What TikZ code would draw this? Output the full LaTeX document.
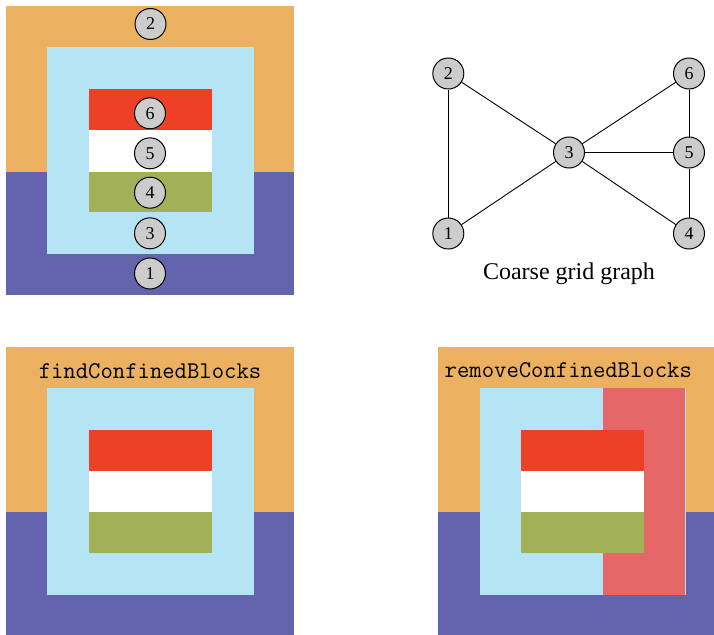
\documentclass[tikz,border=0pt]{standalone}
\usepackage{fontspec}
\setmainfont{Liberation Serif}

\definecolor{orangeA}{RGB}{235,177,96}
\definecolor{purpleA}{RGB}{100,100,174}
\definecolor{blueA}{RGB}{181,228,245}
\definecolor{redA}{RGB}{239,64,39}
\definecolor{greenA}{RGB}{162,177,87}
\definecolor{salmonA}{RGB}{229,103,104}
\definecolor{nodegray}{RGB}{204,204,204}

% One nested-block panel: outer halves, light-blue block and the three inner strips
\newcommand{\blockpanel}{%
  \fill[orangeA] (6,6) rectangle (294,171.7);
  \fill[purpleA] (6,171.7) rectangle (294,295);
  \fill[blueA] (47.3,47.3) rectangle (253.7,254);
  \fill[redA] (88.5,89) rectangle (212,130);
  \fill[white] (88.5,130) rectangle (212,171.7);
  \fill[greenA] (88.5,171.7) rectangle (212,212.3);
}

\begin{document}
\begin{tikzpicture}[x=1pt,y=-1pt,
  blocknode/.style={circle, draw=black, line width=1pt, fill=nodegray,
    minimum size=31pt, inner sep=0pt, font=\fontsize{18}{18}\selectfont},
  edge/.style={draw=black, line width=0.9pt},
  ttlabel/.style={anchor=base, inner sep=0pt, font=\fontsize{24}{24}\selectfont\ttfamily},
  caption/.style={anchor=base, inner sep=0pt, font=\fontsize{24}{24}\selectfont}]
\useasboundingbox (0,0) rectangle (714,634);
\begin{scope}
\clip (0,0) rectangle (714,634);

% top left: blocks with their numbers
\blockpanel
\node[blocknode] (p2) at (150.5,24) {2};
\node[blocknode] (p6) at (150,113.3) {6};
\node[blocknode] (p5) at (150,153.3) {5};
\node[blocknode] (p4) at (150,192.7) {4};
\node[blocknode] (p3) at (150,233.3) {3};
\node[blocknode] (p1) at (150,273.5) {1};

% top right: coarse grid graph
\node[blocknode] (g2) at (448.3,73.5) {2};
\node[blocknode] (g1) at (448.3,233.5) {1};
\node[blocknode] (g3) at (569,152.5) {3};
\node[blocknode] (g6) at (689,73.5) {6};
\node[blocknode] (g5) at (689,152.5) {5};
\node[blocknode] (g4) at (689,233.5) {4};
\draw[edge] (g2) -- (g1);
\draw[edge] (g2) -- (g3);
\draw[edge] (g1) -- (g3);
\draw[edge] (g3) -- (g6);
\draw[edge] (g3) -- (g5);
\draw[edge] (g3) -- (g4);
\draw[edge] (g6) -- (g5);
\draw[edge] (g5) -- (g4);
\node[caption] (cap) at (569,279) {Coarse grid graph};

% bottom left: findConfinedBlocks
\begin{scope}[shift={(0pt,-340.5pt)}]
\blockpanel
\node[ttlabel] (find) at (150,37.7) {findConfinedBlocks};
\end{scope}

% bottom right: removeConfinedBlocks, right part of the blue block removed
\begin{scope}[shift={(432.3pt,-340.5pt)}]
\blockpanel
\fill[salmonA] (170.7,47.3) rectangle (252.7,254);
\fill[redA] (88.5,89) rectangle (212,130);
\fill[white] (88.5,130) rectangle (212,171.7);
\fill[greenA] (88.5,171.7) rectangle (212,212.3);
\node[ttlabel] (remove) at (136,37.2) {removeConfinedBlocks};
\end{scope}
\end{scope}
\end{tikzpicture}
\end{document}
